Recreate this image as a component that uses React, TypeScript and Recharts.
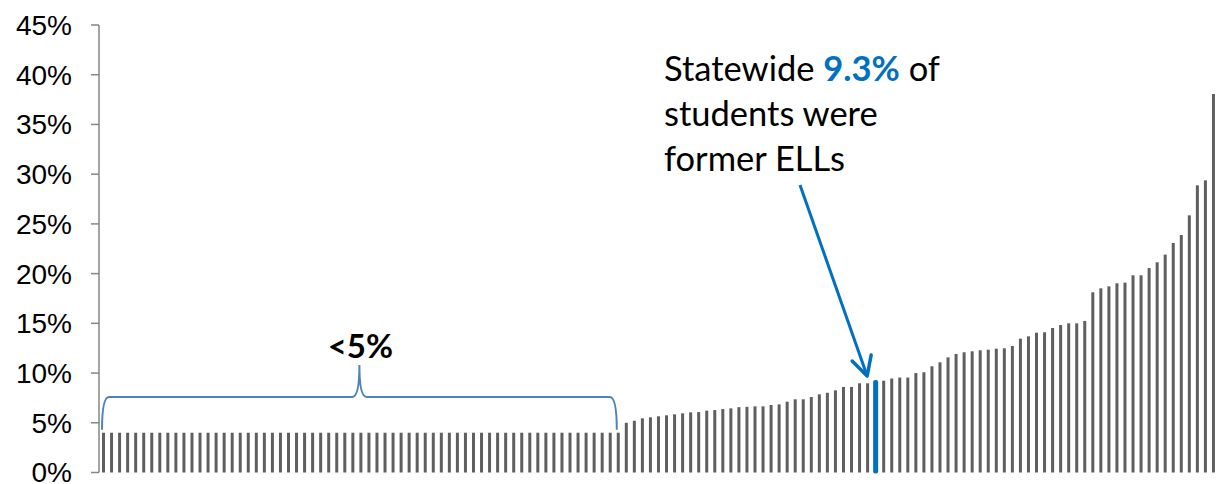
import React from 'react';
import { Bar, BarChart, XAxis, YAxis } from 'recharts';

// Share of students who were former ELLs, one bar per district, sorted.
// Districts under 5% are drawn at a flat placeholder height.

const W = 1217;
const H = 484;
const MARGIN = { top: 25, right: 0, bottom: 11.5, left: 0 };
const Y_AXIS_W = 99;
const Y_MAX = 45;
const GRAY = '#5f5f5f';
const BLUE = '#0070C0';
const BRACE = '#4F81BD';

const yTicks = [0, 5, 10, 15, 20, 25, 30, 35, 40, 45];

// 65 districts below 5% (shown at placeholder height)
const lowRates = [
  4, 4, 4, 4, 4, 4, 4, 4, 4, 4, 4, 4, 4, 4, 4, 4, 4, 4, 4, 4, 4, 4, 4, 4, 4,
  4, 4, 4, 4, 4, 4, 4, 4, 4, 4, 4, 4, 4, 4, 4, 4, 4, 4, 4, 4, 4, 4, 4, 4, 4,
  4, 4, 4, 4, 4, 4, 4, 4, 4, 4, 4, 4, 4, 4, 4,
];

// remaining districts, the statewide bar sits among them
const highRates = [
  5.0, 5.2, 5.45, 5.55, 5.65, 5.75, 5.85, 5.95, 6.05, 6.08, 6.22, 6.28, 6.38,
  6.45, 6.57, 6.6, 6.65, 6.65, 6.79, 6.85, 7.12, 7.36, 7.36, 7.59, 7.86, 8.02,
  8.26, 8.6, 8.6, 8.97, 8.97, 9.3, 9.23, 9.45, 9.55, 9.55, 10.0, 10.08, 10.68,
  11.08, 11.58, 11.92, 12.09, 12.19, 12.29, 12.35, 12.45, 12.49, 12.72, 13.46,
  13.69, 14.06, 14.1, 14.53, 14.83, 15.0, 15.0, 15.24, 18.12, 18.52, 18.72,
  19.03, 19.09, 19.83, 19.83, 20.56, 21.14, 21.91, 23.08, 23.88, 25.86, 28.88,
  29.38, 38.06,
];

const statewideIndex = 96;
const statewideValue = '9.3%';

const rates = [...lowRates, ...highRates];
const data = rates.map((v, i) => ({
  name: `D${i + 1}`,
  rate: v,
  statewide: i === statewideIndex,
}));

// same geometry the chart uses, for the overlay annotations
const plotLeft = MARGIN.left + Y_AXIS_W;
const plotW = W - plotLeft - MARGIN.right;
const plotH = H - MARGIN.top - MARGIN.bottom;
const band = plotW / rates.length;
const xOf = (i: number) => plotLeft + (i + 0.5) * band;
const yOf = (v: number) => MARGIN.top + (1 - v / Y_MAX) * plotH;

const BarShape = (props: any) => {
  const { x, y, width, height, payload } = props;
  if (payload?.statewide) {
    return (
      <rect x={x - 1} y={y} width={width + 2} height={height + 1} rx={2} fill={BLUE} />
    );
  }
  return <rect x={x} y={y} width={width} height={height} fill={GRAY} />;
};

function Annotations() {
  const bl = xOf(0) - 1;
  const br = xOf(lowRates.length - 1) - 1;
  const bm = (bl + br) / 2;
  const yb = yOf(4.3);
  const yh = yOf(7.6);
  const yt = yOf(10.8);
  const brace = `M ${bl} ${yb} Q ${bl} ${yh} ${bl + 7} ${yh} L ${bm - 7} ${yh} Q ${bm} ${yh} ${bm} ${yt} Q ${bm} ${yh} ${bm + 7} ${yh} L ${br - 7} ${yh} Q ${br} ${yh} ${br} ${yb}`;

  const tipX = xOf(statewideIndex) - 8;
  const tipY = yOf(9.3) - 4;
  const startX = 800;
  const startY = 185;

  return (
    <svg
      width={W}
      height={H}
      style={{ position: 'absolute', left: 0, top: 0, pointerEvents: 'none' }}
    >
      <path d={brace} fill="none" stroke={BRACE} strokeWidth={2} />
      <text
        x={bm + 1}
        y={yOf(11.48)}
        textAnchor="middle"
        fontFamily="Lato, 'Open Sans', sans-serif"
        fontWeight={700}
        fontSize={33}
        fill="#000"
      >
        &lt;5%
      </text>

      <line x1={startX} y1={startY} x2={tipX} y2={tipY} stroke={BLUE} strokeWidth={3} />
      <polyline
        points={`${tipX - 15} ${tipY - 15} ${tipX} ${tipY} ${tipX + 4} ${tipY - 21}`}
        fill="none"
        stroke={BLUE}
        strokeWidth={3.5}
        strokeLinejoin="round"
        strokeLinecap="round"
      />

      <g fontFamily="Lato, 'Open Sans', sans-serif" fontSize={34.5} fill="#000">
        <text x={664} y={81}>
          Statewide{' '}
          <tspan fill={BLUE} fontWeight={700}>
            {statewideValue}
          </tspan>{' '}
          of
        </text>
        <text x={664} y={126}>
          students were
        </text>
        <text x={664} y={171}>
          former ELLs
        </text>
      </g>
    </svg>
  );
}

export default function App() {
  return (
    <div style={{ position: 'relative', width: W, height: H, background: '#fff' }}>
      <style>{'body{margin:0}'}</style>
      <BarChart width={W} height={H} data={data} margin={MARGIN}>
        <XAxis dataKey="name" type="category" hide />
        <YAxis
          type="number"
          domain={[0, Y_MAX]}
          ticks={yTicks}
          interval={0}
          width={Y_AXIS_W}
          tickFormatter={(v) => `${v}%`}
          axisLine={{ stroke: '#868686', strokeWidth: 1.5 }}
          tickLine={{ stroke: '#868686', strokeWidth: 1.5 }}
          tickSize={8}
          tickMargin={19}
          tick={{ fontSize: 28, fill: '#000', fontFamily: "'Liberation Sans', Arial, sans-serif" }}
        />
        <Bar dataKey="rate" barSize={3} shape={BarShape} isAnimationActive={false} />
      </BarChart>
      <Annotations />
    </div>
  );
}
